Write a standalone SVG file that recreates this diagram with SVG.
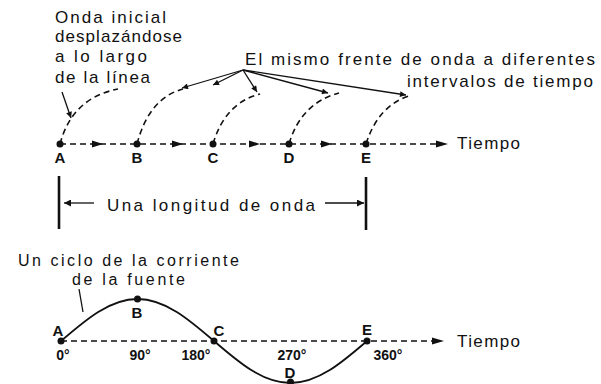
<svg xmlns="http://www.w3.org/2000/svg" width="601" height="384" viewBox="0 0 601 384">
<style>
text{font-family:"Liberation Sans",Arial,sans-serif;fill:#111;}
.t{font-size:17px;}
.t2{font-size:16px;}
.lbl{font-size:15px;font-weight:bold;text-anchor:middle;}
.deg{font-size:14px;font-weight:bold;text-anchor:middle;}
.dash{fill:none;stroke:#111;stroke-width:1.6;stroke-dasharray:6 4;}
.ln{fill:none;stroke:#111;stroke-width:1.3;}
.cur{fill:none;stroke:#111;stroke-width:1.8;}
.bar{stroke:#111;stroke-width:2.6;}
.dot{fill:#111;}
.ah{fill:#111;}
</style>
<defs>
<marker id="arr" viewBox="0 0 10 10" refX="10" refY="5" markerWidth="8" markerHeight="6" markerUnits="userSpaceOnUse" orient="auto">
<path d="M0,0 L10,5 L0,10 Z" fill="#111"/>
</marker>
<marker id="arrBig" viewBox="0 0 10 10" refX="10" refY="5" markerWidth="11" markerHeight="7" markerUnits="userSpaceOnUse" orient="auto">
<path d="M0,0 L10,5 L0,10 Z" fill="#111"/>
</marker>
</defs>

<g id="connectors">
<line class="dash" x1="60" y1="144" x2="440" y2="144"/>
<path class="ah" d="M92,140.5 L103,144 L92,147.5 Z"/>
<path class="ah" d="M172,140.5 L183,144 L172,147.5 Z"/>
<path class="ah" d="M249,140.5 L260,144 L249,147.5 Z"/>
<path class="ah" d="M321,140.5 L332,144 L321,147.5 Z"/>
<path class="ah" d="M436,140.5 L448,144 L436,147.5 Z"/>
<path class="dash" d="M60,144 Q72,98 118,89"/>
<path class="dash" d="M137,144 Q149,98 183,89"/>
<path class="dash" d="M213,144 Q225,103 260,94"/>
<path class="dash" d="M289,144 Q301,103 339,93"/>
<path class="dash" d="M366,144 Q378,106 409,96"/>
<line class="ln" x1="62" y1="92" x2="71" y2="118" marker-end="url(#arr)"/>
<line class="ln" x1="243" y1="70" x2="182" y2="88" marker-end="url(#arr)"/>
<line class="ln" x1="243" y1="70" x2="213" y2="85" marker-end="url(#arr)"/>
<line class="ln" x1="243" y1="70" x2="257" y2="92" marker-end="url(#arr)"/>
<line class="ln" x1="243" y1="70" x2="328" y2="93" marker-end="url(#arr)"/>
<line class="ln" x1="243" y1="70" x2="406" y2="95" marker-end="url(#arr)"/>
<line class="bar" x1="59" y1="176" x2="59" y2="229"/>
<line class="bar" x1="366" y1="177" x2="366" y2="230"/>
<line class="ln" x1="94" y1="203" x2="64" y2="203" marker-end="url(#arrBig)"/>
<line class="ln" x1="325" y1="203" x2="364" y2="203" marker-end="url(#arrBig)"/>
<line class="dash" x1="61" y1="341" x2="434" y2="341"/>
<path class="ah" d="M432,337.5 L444,341 L432,344.5 Z"/>
<path class="cur" d="M61,341 C85.95,319.48 109.81,299 137.5,299 C165.19,299 189.05,319.48 214,341 C238.95,362.52 262.81,383 290.5,383 C318.19,383 342.05,362.52 367,341"/>
<line class="ln" x1="79" y1="289" x2="83" y2="312"/>
</g>

<g id="label-initial">
<text class="t" x="55" y="23" textLength="111" lengthAdjust="spacing">Onda inicial</text>
<text class="t" x="55" y="42" textLength="127" lengthAdjust="spacing">desplazándose</text>
<text class="t" x="55" y="62" textLength="92" lengthAdjust="spacing">a lo largo</text>
<text class="t" x="55" y="83" textLength="95" lengthAdjust="spacing">de la línea</text>
</g>
<g id="label-same-front">
<text class="t" x="245" y="65" textLength="350" lengthAdjust="spacing">El mismo frente de onda a diferentes</text>
<text class="t" x="407" y="87" textLength="186" lengthAdjust="spacing">intervalos de tiempo</text>
</g>
<g id="label-time-top"><text class="t" x="457" y="149" textLength="63" lengthAdjust="spacing">Tiempo</text></g>

<g id="point-A-top"><circle class="dot" cx="60" cy="144" r="3.5"/><text class="lbl" x="60" y="163">A</text></g>
<g id="point-B-top"><circle class="dot" cx="137" cy="144" r="3.5"/><text class="lbl" x="137" y="163">B</text></g>
<g id="point-C-top"><circle class="dot" cx="213" cy="144" r="3.5"/><text class="lbl" x="213" y="163">C</text></g>
<g id="point-D-top"><circle class="dot" cx="289" cy="144" r="3.5"/><text class="lbl" x="289" y="163">D</text></g>
<g id="point-E-top"><circle class="dot" cx="366" cy="144" r="3.5"/><text class="lbl" x="366" y="163">E</text></g>

<g id="label-wavelength"><text class="t" x="107" y="211" textLength="208" lengthAdjust="spacing">Una longitud de onda</text></g>

<g id="label-cycle">
<text class="t2" x="18" y="266" textLength="221" lengthAdjust="spacing">Un ciclo de la corriente</text>
<text class="t2" x="72" y="285" textLength="113" lengthAdjust="spacing">de la fuente</text>
</g>
<g id="label-time-bottom"><text class="t" x="457" y="347" textLength="63" lengthAdjust="spacing">Tiempo</text></g>

<g id="point-A-bottom"><circle class="dot" cx="61" cy="341" r="3.5"/><text class="lbl" x="58" y="336">A</text><text class="deg" x="63" y="360">0°</text></g>
<g id="point-B-bottom"><circle class="dot" cx="137.5" cy="299" r="3.5"/><text class="lbl" x="137" y="318">B</text><text class="deg" x="140" y="360">90°</text></g>
<g id="point-C-bottom"><circle class="dot" cx="214" cy="341" r="3.5"/><text class="lbl" x="219" y="336">C</text><text class="deg" x="196" y="360">180°</text></g>
<g id="point-D-bottom"><circle class="dot" cx="290.5" cy="382" r="3.5"/><text class="lbl" x="290" y="378">D</text><text class="deg" x="292" y="360">270°</text></g>
<g id="point-E-bottom"><circle class="dot" cx="367" cy="341" r="3.5"/><text class="lbl" x="367" y="335">E</text><text class="deg" x="388" y="360">360°</text></g>
</svg>
